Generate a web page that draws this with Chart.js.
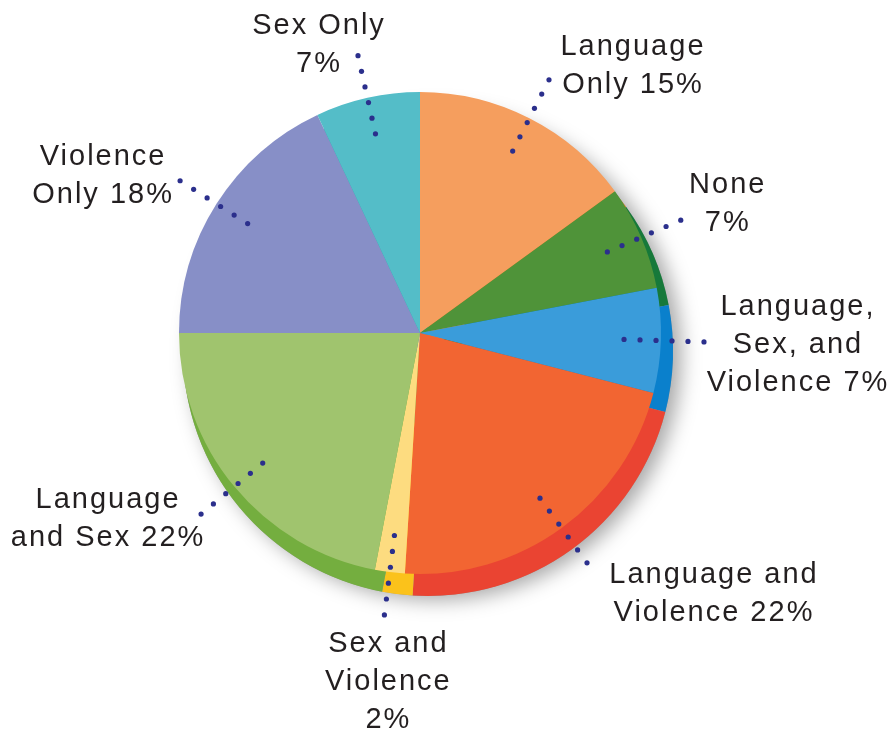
<!DOCTYPE html>
<html>
<head>
<meta charset="utf-8">
<script src="https://cdn.jsdelivr.net/npm/chart.js@4"></script>
<style>
  body { margin: 0; background: #fff; }
  canvas { display: block; }
</style>
</head>
<body>
<canvas id="ratings" width="887" height="730"></canvas>
<script>
// Content of films: share of each category, clockwise from 12 o'clock

const categories = [
  'Language Only', 'None', 'Language, Sex, and Violence', 'Language and Violence',
  'Sex and Violence', 'Language and Sex', 'Violence Only', 'Sex Only'
];
const shares = [15, 7, 7, 22, 2, 22, 18, 7];

// text of each label as it is broken in the picture
const labelLines = [
  ['Language', 'Only 15%'],
  ['None', '7%'],
  ['Language,', 'Sex, and', 'Violence 7%'],
  ['Language and', 'Violence 22%'],
  ['Sex and', 'Violence', '2%'],
  ['Language', 'and Sex 22%'],
  ['Violence', 'Only 18%'],
  ['Sex Only', '7%']
];

const faceColors = ['#F59E5E', '#4F9339', '#3A9CDA', '#F26532', '#FDDC80', '#A0C46E', '#878FC7', '#54BDC8'];
const rimColors  = ['#F07D22', '#16793A', '#0A80CC', '#EA4432', '#FBC21B', '#74AE3F', '#6B74B5', '#2FA3B2'];

// where each label's first baseline sits, relative to the outer end of its dotted line
const labelOffsets = [[83, -25], [46, -27], [93, -27], [126, 20], [3, 37], [-94, -6], [-78, -16], [-40, -22]];

const rimPlugin = {
  id: 'rim',
  beforeDatasetsDraw(chart) {
    const ctx = chart.ctx;
    const arcs = chart.getDatasetMeta(0).data;
    if (!arcs.length) return;
    const cx = arcs[0].x + 8, cy = arcs[0].y + 18;
    const r = arcs[0].outerRadius + 4;
    ctx.save();
    ctx.shadowColor = 'rgba(0,0,0,0.35)';
    ctx.shadowBlur = 20;
    ctx.shadowOffsetX = 8;
    ctx.shadowOffsetY = 4;
    ctx.beginPath();
    ctx.arc(cx, cy, r, 0, Math.PI * 2);
    ctx.fillStyle = '#999';
    ctx.fill();
    ctx.restore();
    arcs.forEach((a, i) => {
      ctx.beginPath();
      ctx.moveTo(cx, cy);
      ctx.arc(cx, cy, r, a.startAngle, a.endAngle);
      ctx.closePath();
      ctx.fillStyle = rimColors[i];
      ctx.fill();
    });
  },
  afterDatasetsDraw(chart) {
    const ctx = chart.ctx;
    const arcs = chart.getDatasetMeta(0).data;
    ctx.save();
    arcs.forEach((a, i) => {
      const mid = (a.startAngle + a.endAngle) / 2;
      const r0 = a.outerRadius * 0.847;
      let ex = 0, ey = 0;
      ctx.fillStyle = '#2B2F8C';
      for (let k = 0; k < 6; k++) {
        ex = a.x + Math.cos(mid) * (r0 + k * 16);
        ey = a.y + Math.sin(mid) * (r0 + k * 16);
        ctx.beginPath();
        ctx.arc(ex, ey, 2.6, 0, Math.PI * 2);
        ctx.fill();
      }
      ctx.fillStyle = '#231F20';
      ctx.font = '29px "Liberation Sans", Arial, sans-serif';
      ctx.letterSpacing = '2px';
      ctx.textAlign = 'center';
      ctx.textBaseline = 'alphabetic';
      const tx = ex + labelOffsets[i][0];
      const ty = ey + labelOffsets[i][1];
      labelLines[i].forEach((line, j) => {
        ctx.fillText(line, tx + 1, ty + j * 38);
      });
    });
    ctx.restore();
  }
};

new Chart(document.getElementById('ratings'), {
  type: 'pie',
  data: {
    labels: categories,
    datasets: [{
      data: shares,
      backgroundColor: faceColors,
      borderWidth: 0,
      hoverOffset: 0
    }]
  },
  options: {
    responsive: false,
    animation: false,
    events: [],
    layout: { padding: { left: 179, right: 226, top: 92, bottom: 156 } },
    plugins: {
      legend: { display: false },
      tooltip: { enabled: false }
    }
  },
  plugins: [rimPlugin]
});
</script>
</body>
</html>
